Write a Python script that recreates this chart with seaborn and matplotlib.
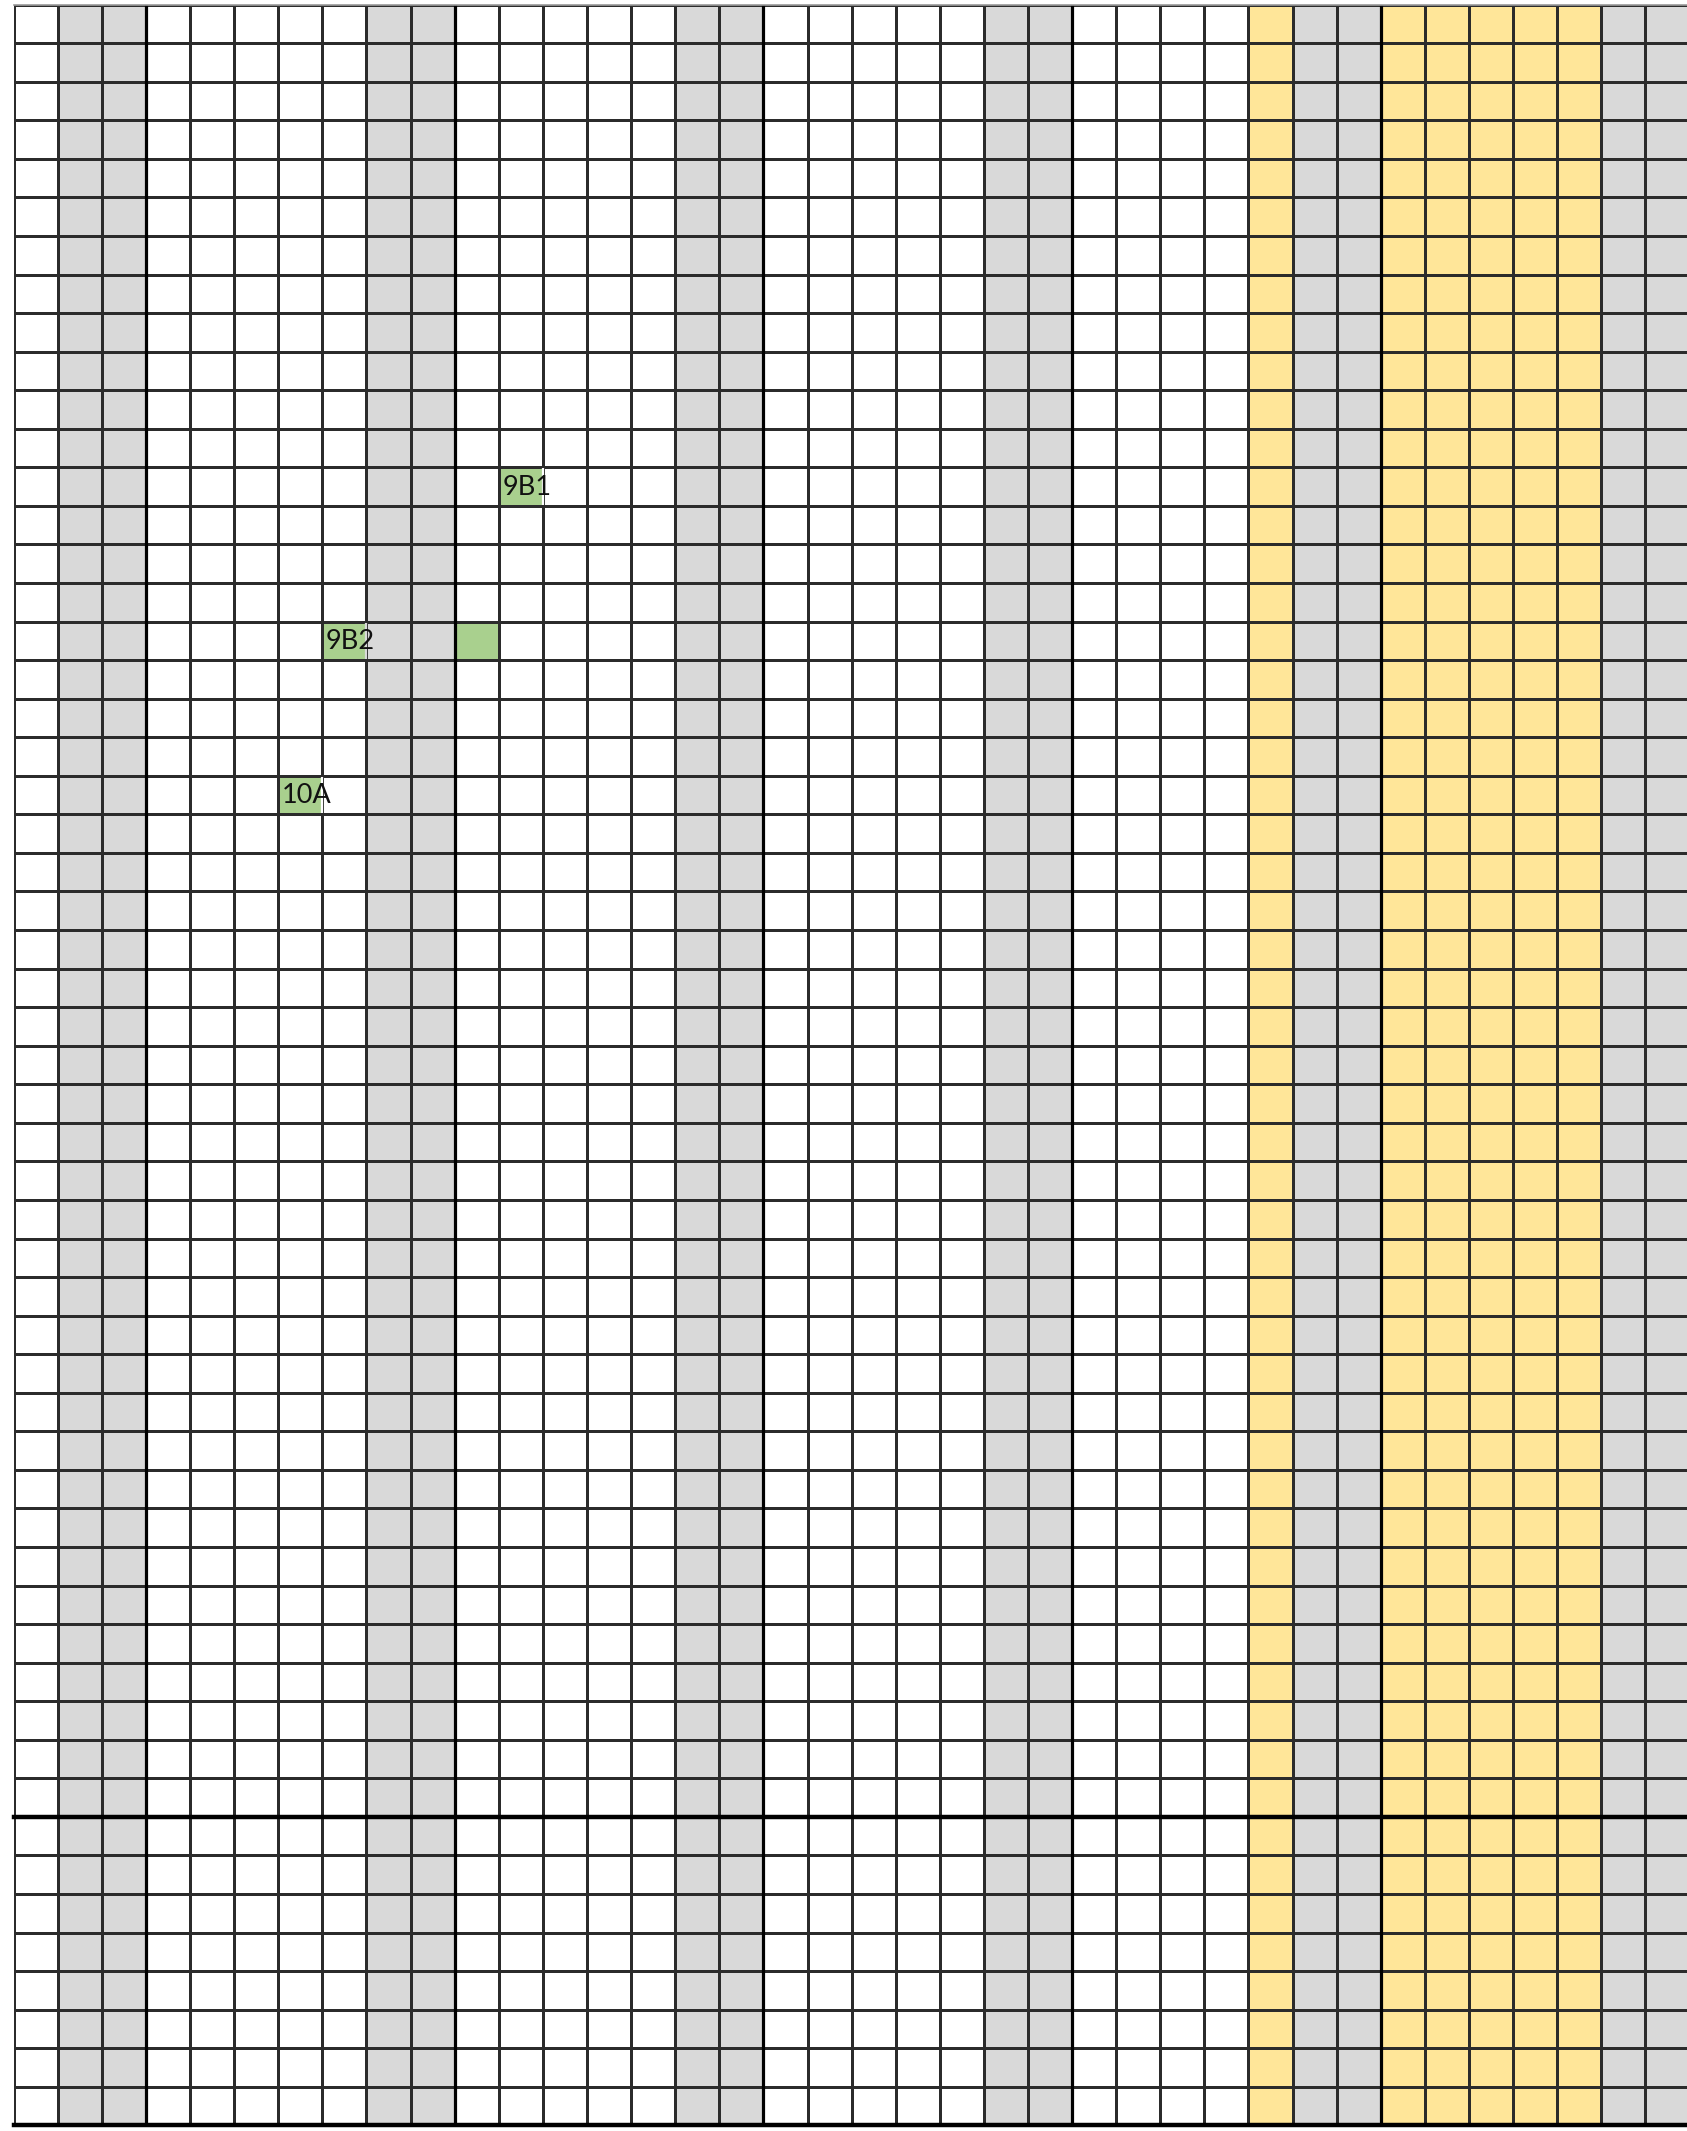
import numpy as np
import pandas as pd
import seaborn as sns
import matplotlib.pyplot as plt
from matplotlib.colors import ListedColormap

# Column fill pattern: W = white, G = grey (weekend), Y = yellow
col_fill = list("WGGWWWWWGGWWWWWGGWWWWWGGWWWWYGGYYYYYGG")
n_rows = 55

# Green marked cells (row, col, label)
mark_rows = [12, 16, 16, 20]
mark_cols = [11, 7, 10, 6]
mark_labels = ["9B1", "9B2", "", "10A"]

# Thick separators
week_cols = [3, 10, 17, 24, 31]
split_rows = [47, 55]

fill_colors = {"W": "#FFFFFF", "G": "#D9D9D9", "Y": "#FFE699", "M": "#A9D08E"}
codes = {"W": 0, "G": 1, "Y": 2, "M": 3}

grid = np.tile([codes[c] for c in col_fill], (n_rows, 1))
for r, c in zip(mark_rows, mark_cols):
    grid[r, c] = codes["M"]
df = pd.DataFrame(grid)

cmap = ListedColormap([fill_colors[k] for k in ["W", "G", "Y", "M"]])

W, H = 1687, 2131
cw, rh = 44.1, 38.56
x0, y0 = 13.7, 4.6

fig = plt.figure(figsize=(W / 100, H / 100), dpi=100)
ax = fig.add_axes([x0 / W, 1 - (y0 + n_rows * rh) / H,
                   len(col_fill) * cw / W, n_rows * rh / H])

sns.heatmap(df, cmap=cmap, vmin=-0.5, vmax=3.5, cbar=False,
            linewidths=0.9, linecolor="#2b2b2b",
            xticklabels=False, yticklabels=False, ax=ax)

# hide cell borders under overflowing labels
for r, c, lab in zip(mark_rows, mark_cols, mark_labels):
    if lab:
        ax.vlines(c + 1, r + 0.03, r + 0.97,
                  color=fill_colors[col_fill[c + 1]], lw=1.6, zorder=3)

# week separators and row splits
for c in week_cols:
    ax.axvline(c, color="black", lw=2.3, zorder=4)
for r in split_rows:
    ax.axhline(r, color="black", lw=3.2, zorder=4, clip_on=False)

# light top border
ax.axhline(0, color="#9a9a9a", lw=1.2, zorder=4, clip_on=False)

for r, c, lab in zip(mark_rows, mark_cols, mark_labels):
    ax.text(c + 0.08, r + 0.52, lab, ha="left", va="center",
            fontsize=19.5, family=["Lato", "DejaVu Sans"], color="#111111", zorder=5)

for s in ax.spines.values():
    s.set_visible(False)

fig.savefig("out.png", dpi=100)
plt.close(fig)
